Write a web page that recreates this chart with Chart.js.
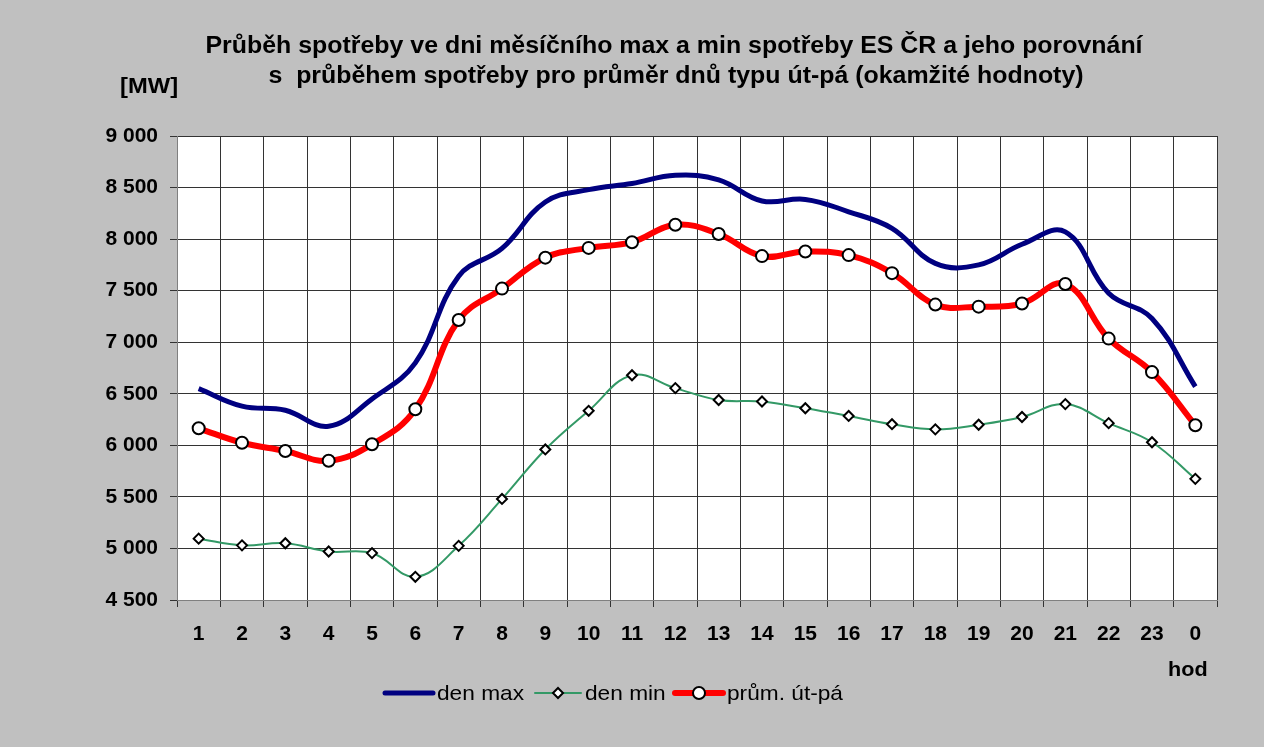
<!DOCTYPE html>
<html>
<head>
<meta charset="utf-8">
<script src="https://cdn.jsdelivr.net/npm/chart.js@4"></script>
<style>
  html, body { margin: 0; padding: 0; background: #c0c0c0; }
  #wrap { width: 1264px; height: 747px; }
</style>
</head>
<body>
<div id="wrap"><canvas id="myChart" width="1264" height="747"></canvas></div>
<script>
// data ---------------------------------------------------
const hours = ["1","2","3","4","5","6","7","8","9","10","11","12","13","14","15","16","17","18","19","20","21","22","23","0"];
const denMax = [6550, 6380, 6340, 6185, 6450, 6800, 7640, 7910, 8360, 8480, 8540, 8620,
                8575, 8370, 8385, 8265, 8105, 7765, 7750, 7950, 8070, 7475, 7230, 6570];
const denMin = [5095, 5030, 5050, 4970, 4955, 4725, 5025, 5480, 5960, 6335, 6680, 6555,
                6440, 6425, 6360, 6285, 6205, 6155, 6200, 6275, 6400, 6215, 6030, 5675];
const prumUtPa = [6165, 6025, 5945, 5850, 6010, 6350, 7215, 7520, 7820, 7915, 7970, 8140,
                  8050, 7835, 7880, 7845, 7670, 7365, 7345, 7375, 7565, 7035, 6710, 6195];
const yMin = 4500, yMax = 9000, yStep = 500;

const titleLines = [
  "Průběh spotřeby ve dni měsíčního max a min spotřeby ES ČR a jeho porovnání",
  "s  průběhem spotřeby pro průměr dnů typu út-pá (okamžité hodnoty)"
];
const seriesNames = ["den max", "den min", "prům. út-pá"];

// 9 000 format
function fmt(v) {
  const t = Math.floor(v / 1000);
  const r = String(v % 1000).padStart(3, "0");
  return t + " " + r;
}

// text trochu roztazeny do sirky jako v originale
function wideText(c, text, x, y, sx) {
  c.save();
  c.translate(x, y);
  c.scale(sx, 1);
  c.fillText(text, 0, 0);
  c.restore();
}

// texty + legenda kreslene rucne --------------------------
const extras = {
  id: "extras",
  afterDraw(chart) {
    const c = chart.ctx;
    c.save();
    c.fillStyle = "#000";
    c.textBaseline = "middle";
    c.textAlign = "center";
    c.font = "bold 23px Arial, 'Liberation Sans'";
    wideText(c, titleLines[0], 674, 47, 1.083);
    wideText(c, titleLines[1], 676, 77, 1.083);
    c.textAlign = "left";
    c.font = "bold 22px Arial, 'Liberation Sans'";
    wideText(c, "[MW]", 120, 87, 1.08);
    c.font = "bold 20px Arial, 'Liberation Sans'";
    wideText(c, "hod", 1168, 670, 1.08);

    // legend
    const ds = chart.data.datasets;
    const items = [
      { x: 385, w: 48, tx: 437 },
      { x: 535, w: 46, tx: 585 },
      { x: 675, w: 48, tx: 727 }
    ];
    const y = 693;
    c.font = "21px Arial, 'Liberation Sans'";
    items.forEach(function (it, i) {
      const d = ds[i];
      c.strokeStyle = d.borderColor;
      c.lineWidth = d.borderWidth;
      c.lineCap = "round";
      c.beginPath();
      c.moveTo(it.x, y);
      c.lineTo(it.x + it.w, y);
      c.stroke();
      if (d.pointRadius > 0) {
        const cx = it.x + it.w / 2, r = d.pointRadius;
        c.fillStyle = d.pointBackgroundColor;
        c.strokeStyle = d.pointBorderColor;
        c.lineWidth = d.pointBorderWidth;
        c.beginPath();
        if (d.pointStyle === "circle") {
          c.arc(cx, y, r, 0, Math.PI * 2);
        } else {
          c.moveTo(cx - r, y); c.lineTo(cx, y - r); c.lineTo(cx + r, y); c.lineTo(cx, y + r); c.closePath();
        }
        c.fill();
        c.stroke();
      }
      c.fillStyle = "#000";
      wideText(c, d.label, it.tx, y + 1, 1.08);
    });
    c.restore();
  }
};

const plotBg = {
  id: "plotBg",
  beforeDraw(chart) {
    const a = chart.chartArea;
    chart.ctx.save();
    chart.ctx.fillStyle = "#ffffff";
    chart.ctx.fillRect(a.left, a.top, a.right - a.left, a.bottom - a.top);
    chart.ctx.restore();
  }
};

const ctx = document.getElementById("myChart");
const chart = new Chart(ctx, {
  type: "line",
  data: {
    labels: hours,
    datasets: [
      {
        label: seriesNames[0],
        data: denMax,
        borderColor: "#000080",
        borderWidth: 5,
        pointRadius: 0,
        tension: 0.4,
        order: 1
      },
      {
        label: seriesNames[1],
        data: denMin,
        borderColor: "#339966",
        borderWidth: 2,
        pointStyle: "rectRot",
        pointRadius: 5,
        pointBorderWidth: 2,
        pointBackgroundColor: "#ffffff",
        pointBorderColor: "#000000",
        tension: 0.4,
        order: 2
      },
      {
        label: seriesNames[2],
        data: prumUtPa,
        borderColor: "#ff0000",
        borderWidth: 6,
        pointStyle: "circle",
        pointRadius: 6,
        pointBorderWidth: 2,
        pointBackgroundColor: "#ffffff",
        pointBorderColor: "#000000",
        tension: 0.4,
        order: 0
      }
    ]
  },
  options: {
    responsive: false,
    animation: false,
    devicePixelRatio: 1,
    layout: { padding: { left: 0, top: 136, right: 47, bottom: 100 } },
    plugins: {
      legend: { display: false },
      title: { display: false },
      tooltip: { enabled: false }
    },
    scales: {
      x: {
        offset: true,
        grid: { offset: true, color: "#333", lineWidth: 1, tickLength: 7, tickColor: "#333" },
        border: { color: "#808080", width: 1 },
        ticks: {
          color: "#000",
          font: { family: "Arial, 'Liberation Sans'", size: 21, weight: "bold" },
          padding: 15,
          maxRotation: 0,
          autoSkip: false
        },
        afterFit(scale) { scale.height = 47; }
      },
      y: {
        min: yMin,
        max: yMax,
        grid: { color: "#333", lineWidth: 1, tickLength: 7, tickColor: "#333" },
        border: { color: "#808080", width: 1 },
        ticks: {
          stepSize: yStep,
          color: "#000",
          font: { family: "Arial, 'Liberation Sans'", size: 21, weight: "bold" },
          padding: 12,
          callback: function (v) { return fmt(v); }
        },
        afterFit(scale) { scale.width = 177; }
      }
    }
  },
  plugins: [plotBg, extras]
});
</script>
</body>
</html>
